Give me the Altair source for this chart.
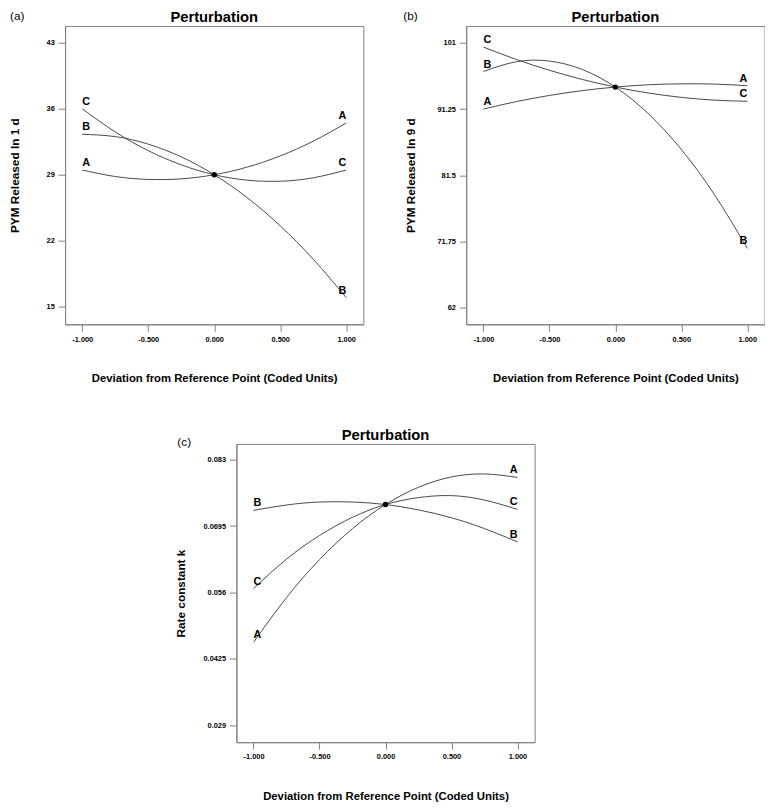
import altair as alt
import pandas as pd

# ---------------- data ----------------
x_pts = [-1.0, -0.75, -0.5, -0.25, 0.0, 0.25, 0.5, 0.75, 1.0]
factors = ["A", "B", "C"]

# (a) PYM released in 1 d
a_A = [29.5, 28.81, 28.5, 28.56, 29.0, 29.81, 31.0, 32.56, 34.5]
a_B = [33.3, 33.05, 32.25, 30.9, 29.0, 26.56, 23.57, 20.03, 15.94]
a_C = [36.0, 33.55, 31.56, 30.05, 29.0, 28.42, 28.31, 28.67, 29.5]

# (b) PYM released in 9 d
b_A = [91.26, 92.36, 93.26, 93.98, 94.5, 94.84, 94.98, 94.94, 94.7]
b_B = [96.8, 98.24, 98.34, 97.09, 94.5, 90.57, 85.29, 78.66, 70.7]
b_C = [100.4, 98.57, 96.98, 95.62, 94.5, 93.62, 92.98, 92.57, 92.4]

# (c) Rate constant k
c_A = [0.0459, 0.0550, 0.0627, 0.0690, 0.0739, 0.0774, 0.0795, 0.0801, 0.0794]
c_B = [0.0727, 0.0738, 0.0744, 0.0744, 0.0739, 0.0728, 0.0712, 0.0690, 0.0663]
c_C = [0.0568, 0.0628, 0.0676, 0.0713, 0.0739, 0.0753, 0.0757, 0.0748, 0.0729]

x_ticks = [-1.0, -0.5, 0.0, 0.5, 1.0]
x_domain = [-1.13, 1.13]
a_ticks = [15, 22, 29, 36, 43]
b_ticks = [62, 71.75, 81.5, 91.25, 101]
c_ticks = [0.029, 0.0425, 0.056, 0.0695, 0.083]
a_domain = [13.1, 44.8]
b_domain = [59.5, 103.5]
c_domain = [0.0256, 0.0862]

panel_title = "Perturbation"
x_title = "Deviation from Reference Point (Coded Units)"
FONT = "Liberation Sans"
GRAY = "#808080"
LINE = "#484848"
W = H = 303


def panel(tag, tag_dx, tag_dy, vals, yticks, ydomain, ytitle, ytitle_x):
    rows = []
    for f, v in zip(factors, vals):
        for x, y in zip(x_pts, v):
            rows.append({"x": x, "y": y, "factor": f})
    df = pd.DataFrame(rows)
    left = df[df["x"] == x_pts[0]]
    right = df[df["x"] == x_pts[-1]]
    centre = df[df["x"] == 0.0].head(1)

    xsc = alt.Scale(domain=x_domain, nice=False, zero=False)
    ysc = alt.Scale(domain=ydomain, nice=False, zero=False)
    xax = alt.Axis(
        values=x_ticks, grid=False, title=x_title,
        labelExpr="(datum.value < 0 ? '-' : '') + format(abs(datum.value), '.3f')",
        labelFontSize=7.5, labelFontWeight="bold", labelPadding=4, labelColor="black",
        tickSize=7, tickColor=GRAY, domainColor=GRAY,
        titleFontSize=11.5, titleFontWeight="bold", titleY=49, titleBaseline="top",
    )
    yax = alt.Axis(
        values=yticks, grid=False, title=ytitle,
        labelExpr="format(datum.value, '~g')",
        labelFontSize=7.5, labelFontWeight="bold", labelPadding=4, labelColor="black",
        tickSize=7, tickColor=GRAY, domainColor=GRAY,
        titleFontSize=12, titleFontWeight="bold", titleX=ytitle_x, titleY=H / 2,
        titleBaseline="bottom", titleAngle=270,
    )
    X = alt.X("x:Q", scale=xsc, axis=xax)
    Y = alt.Y("y:Q", scale=ysc, axis=yax)
    Xn = alt.X("x:Q", scale=xsc)
    Yn = alt.Y("y:Q", scale=ysc)

    lines = alt.Chart(df).mark_line(
        color=LINE, strokeWidth=1, interpolate="natural"
    ).encode(x=X, y=Y, detail="factor:N")
    dot = alt.Chart(centre).mark_point(
        filled=True, color="black", size=30, opacity=1
    ).encode(x=Xn, y=Yn)
    lab_l = alt.Chart(left).mark_text(
        align="left", baseline="alphabetic", dy=-4, fontSize=11,
        fontWeight="bold", color="black"
    ).encode(x=Xn, y=Yn, text="factor:N")
    lab_r = alt.Chart(right).mark_text(
        align="right", baseline="alphabetic", dy=-4, fontSize=11,
        fontWeight="bold", color="black"
    ).encode(x=Xn, y=Yn, text="factor:N")
    tagm = alt.Chart(pd.DataFrame({"t": [tag]})).mark_text(
        align="left", baseline="middle", fontSize=12, color="black"
    ).encode(text="t:N", x=alt.value(tag_dx), y=alt.value(tag_dy))
    ttl = alt.Chart(pd.DataFrame({"t": [panel_title]})).mark_text(
        align="center", baseline="alphabetic", fontSize=15, fontWeight="bold",
        color="black"
    ).encode(text="t:N", x=alt.value(W / 2), y=alt.value(-4))

    return alt.layer(lines, dot, lab_l, lab_r, tagm, ttl).properties(
        width=W, height=H,
        view=alt.ViewBackground(stroke=GRAY, strokeWidth=1),
    )


pa = panel("(a)", -56, -10, [a_A, a_B, a_C], a_ticks, a_domain, "PYM Released In 1 d", -44)
pb = panel("(b)", -64, -10, [b_A, b_B, b_C], b_ticks, b_domain, "PYM Released In 9 d", -50)
pc = panel("(c)", -60, -2, [c_A, c_B, c_C], c_ticks, c_domain, "Rate constant k", -50)

spacer = alt.Chart(pd.DataFrame({"s": [0]})).mark_point(opacity=0, size=0).encode(
    x=alt.X("s:Q", axis=None)
).properties(width=110, height=10, view=alt.ViewBackground(stroke=None))

top = alt.hconcat(pa, pb, spacing=38.5)
bottom = alt.hconcat(spacer, pc, spacing=0)
chart = alt.vconcat(top, bottom, spacing=43.5).properties(
    padding={"top": -5, "left": 0, "right": 0, "bottom": 0}
).configure(font=FONT).configure_view(stroke=None)

chart.save("out.html", embed_options={"renderer": "svg", "actions": False})
